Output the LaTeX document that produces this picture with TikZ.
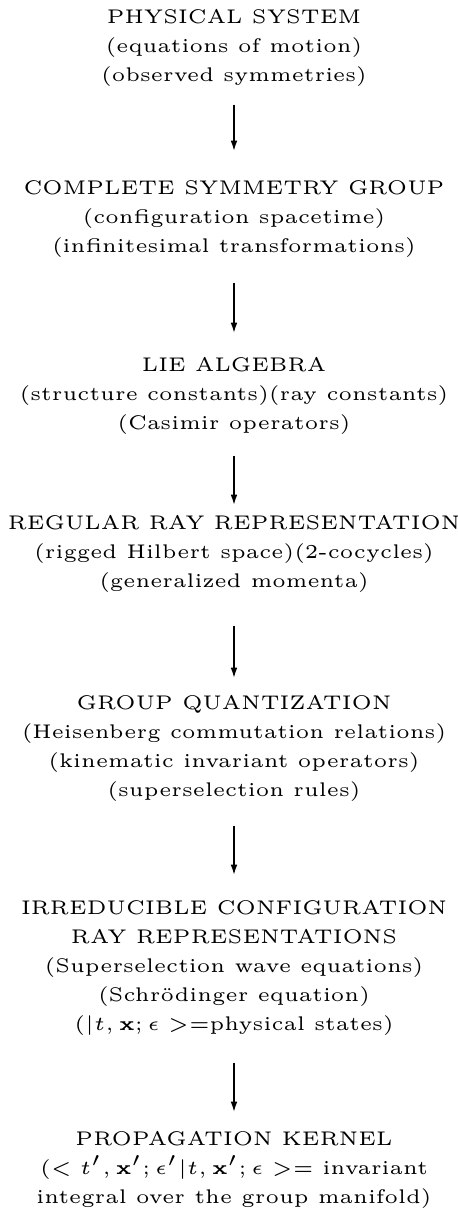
\documentclass[tikz,border=0pt]{standalone}
\usetikzlibrary{arrows.meta}
\begin{document}
\begin{tikzpicture}[x=0.253pt,y=-0.253pt,
  block/.style={anchor=north,align=center,inner sep=0pt,outer sep=0pt,
    font=\fontsize{5}{7.34}\selectfont},
  flow/.style={line width=0.4pt,-{Latex[length=2.6pt,width=1.7pt]}}]
\useasboundingbox (0,0) rectangle (458,1220);
\node[block] (sys) at (234,9) {PHYSICAL SYSTEM\\(equations of motion)\\(observed symmetries)};
\node[block] (grp) at (234,181) {COMPLETE SYMMETRY GROUP\\(configuration spacetime)\\(infinitesimal transformations)};
\node[block] (lie) at (234,357) {LIE ALGEBRA\\(structure constants)(ray constants)\\(Casimir operators)};
\node[block] (reg) at (234,515) {REGULAR RAY REPRESENTATION\\(rigged Hilbert space)(2-cocycles)\\(generalized momenta)};
\node[block] (gq) at (234,695) {GROUP QUANTIZATION\\(Heisenberg commutation relations)\\(kinematic invariant operators)\\(superselection rules)};
\node[block] (irr) at (234,900) {IRREDUCIBLE CONFIGURATION\\RAY REPRESENTATIONS\\(Superselection wave equations)\\(Schr\"odinger equation)\\($|t,\mathbf{x};\epsilon>$=physical states)};
\node[block] (ker) at (234,1131) {PROPAGATION KERNEL\\($<t',\mathbf{x}';\epsilon'|t,\mathbf{x}';\epsilon>=$ invariant\\integral over the group manifold)};
\draw[flow,shorten <=4.71pt,shorten >=7.59pt] (sys) -- (grp);
\draw[flow,shorten <=6.48pt,shorten >=6.07pt] (grp) -- (lie);
\draw[flow,shorten <=5.46pt,shorten >=2.53pt] (lie) -- (reg);
\draw[flow,shorten <=8.50pt,shorten >=4.30pt] (reg) -- (gq);
\draw[flow,shorten <=6.22pt,shorten >=6.33pt] (gq) -- (irr);
\draw[flow,shorten <=6.98pt,shorten >=4.81pt] (irr) -- (ker);
\end{tikzpicture}
\end{document}
